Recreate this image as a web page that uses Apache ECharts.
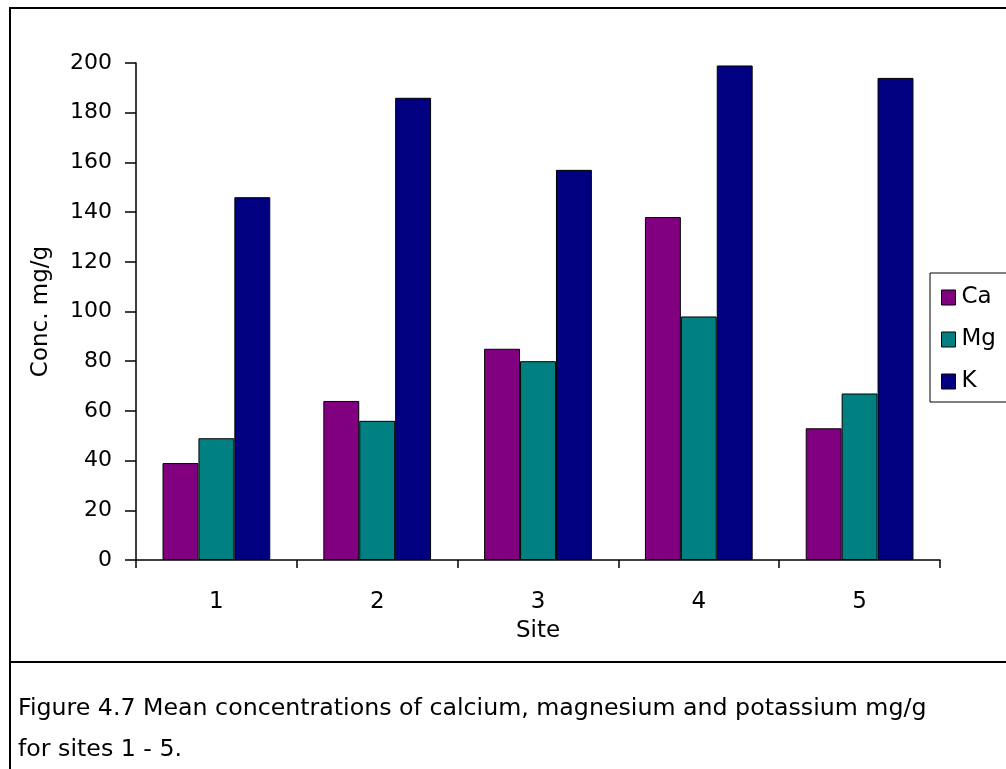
<!DOCTYPE html>
<html>
<head>
<meta charset="utf-8">
<script src="https://cdn.jsdelivr.net/npm/echarts@6/dist/echarts.min.js"></script>
<style>
html, body { margin: 0; padding: 0; background: #fff; }
#chart { width: 1006px; height: 769px; }
</style>
</head>
<body>
<div id="chart"></div>
<script>
var sites = ['1', '2', '3', '4', '5'];
var caValues = [39, 64, 85, 138, 53];
var mgValues = [49, 56, 80, 98, 67];
var kValues = [146, 186, 157, 199, 194];
var captionLines = [
    'Figure 4.7 Mean concentrations of calcium, magnesium and potassium mg/g',
    'for sites 1 - 5.'
];

var font = "'DejaVu Sans', sans-serif";
var chart = echarts.init(document.getElementById('chart'));

function barSeries(name, color, values) {
    return {
        name: name,
        type: 'bar',
        data: values,
        barGap: '0%',
        barCategoryGap: '33%',
        itemStyle: { color: color, borderColor: '#000', borderWidth: 1 },
        emphasis: { disabled: true }
    };
}

var option = {
    animation: false,
    backgroundColor: '#fff',
    textStyle: { fontFamily: font, color: '#000' },
    grid: { left: 136, right: 66, top: 63, bottom: 209, containLabel: false },
    legend: {
        orient: 'vertical',
        left: 930,
        top: 273,
        icon: 'rect',
        itemWidth: 14,
        itemHeight: 15,
        itemGap: 19,
        padding: [13, 24, 9, 11],
        borderColor: '#000',
        borderWidth: 1,
        backgroundColor: '#fff',
        textStyle: { fontFamily: font, fontSize: 23, color: '#000', padding: [0, 0, 0, 1] },
        itemStyle: { borderColor: '#000', borderWidth: 1 },
        data: ['Ca', 'Mg', 'K']
    },
    xAxis: {
        type: 'category',
        data: sites,
        name: 'Site',
        nameLocation: 'middle',
        nameGap: 60,
        nameTextStyle: { fontFamily: font, fontSize: 23, color: '#000' },
        axisLine: { lineStyle: { color: '#000', width: 1.5 } },
        axisTick: { show: true, length: 8, inside: false, lineStyle: { color: '#000', width: 1.5 } },
        axisLabel: { fontFamily: font, fontSize: 23, color: '#000', margin: 31 },
        splitLine: { show: false }
    },
    yAxis: {
        type: 'value',
        min: 0,
        max: 200,
        interval: 20,
        name: 'Conc. mg/g',
        nameLocation: 'middle',
        nameGap: 83,
        nameRotate: 90,
        nameTextStyle: { fontFamily: font, fontSize: 23, color: '#000' },
        axisLine: { show: true, lineStyle: { color: '#000', width: 1.5 } },
        axisTick: { show: true, length: 11, lineStyle: { color: '#000', width: 1.5 } },
        axisLabel: { fontFamily: font, fontSize: 22, color: '#000', margin: 24 },
        splitLine: { show: false }
    },
    series: [
        barSeries('Ca', '#800080', caValues),
        barSeries('Mg', '#008080', mgValues),
        barSeries('K', '#000080', kValues)
    ],
    graphic: [
        {
            type: 'rect',
            shape: { x: 10, y: 8, width: 1000, height: 770 },
            style: { fill: null, stroke: '#000', lineWidth: 2 },
            silent: true
        },
        {
            type: 'line',
            shape: { x1: 10, y1: 662, x2: 1006, y2: 662 },
            style: { stroke: '#000', lineWidth: 2 },
            silent: true
        },
        {
            type: 'text',
            x: 18,
            y: 709,
            style: { text: captionLines[0], fontFamily: font, fontSize: 23.7, fill: '#000', verticalAlign: 'middle' }
        },
        {
            type: 'text',
            x: 18,
            y: 750,
            style: { text: captionLines[1], fontFamily: font, fontSize: 23.7, fill: '#000', verticalAlign: 'middle' }
        }
    ]
};

chart.setOption(option);
</script>
</body>
</html>
